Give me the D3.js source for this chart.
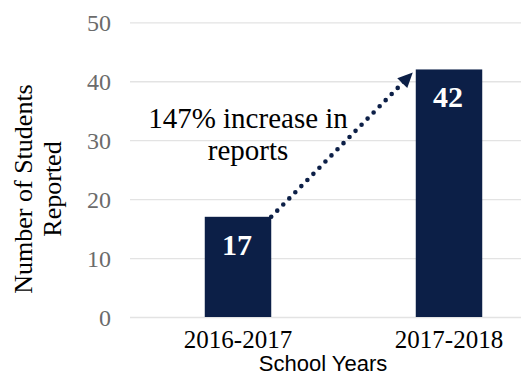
<!DOCTYPE html>
<html><head><meta charset="utf-8">
<script src="https://cdn.jsdelivr.net/npm/d3@7"></script>
<style>body{margin:0;background:#fff}svg{display:block}</style>
</head><body>
<script>
const categories = ["2016-2017", "2017-2018"];
const values = [17, 42];
const yTicks = [0, 10, 20, 30, 40, 50];
const annotationLines = ["147% increase in", "reports"];
const yTitleLines = ["Number of Students", "Reported"];
const xTitle = "School Years";

const W = 521, H = 377;
const svg = d3.select("body").append("svg").attr("width", W).attr("height", H);
const serif = "'Liberation Serif','Times New Roman',serif";
const navy = "#0c1f47";

const y = d3.scaleLinear().domain([0, 50]).range([317, 22.3]);
const x = d3.scaleBand().domain(categories).range([132.5, 554.5]).paddingInner(0.685).paddingOuter(0.3425);

// gridlines
svg.append("g").selectAll("line").data(yTicks).join("line")
  .attr("x1", 130).attr("x2", W)
  .attr("y1", d => y(d) + 0.5).attr("y2", d => y(d) + 0.5)
  .attr("stroke", "#e3e3e3").attr("stroke-width", 1.3);

// y axis labels
const yAxis = d3.axisLeft(y).tickValues(yTicks).tickSize(0).tickPadding(0);
const gy = svg.append("g").attr("transform", "translate(111,0)").call(yAxis);
gy.select(".domain").remove();
gy.selectAll("text").attr("font-family", serif).attr("font-size", 24).attr("fill", "#6b6b6b").attr("dy", "0.34em");

// bars
svg.append("g").selectAll("rect").data(values).join("rect")
  .attr("x", (d, i) => x(categories[i]))
  .attr("y", d => y(d))
  .attr("width", x.bandwidth())
  .attr("height", d => y(0) - y(d))
  .attr("fill", navy);

// bar labels
svg.append("g").selectAll("text").data(values).join("text")
  .attr("x", (d, i) => x(categories[i]) + x.bandwidth() / 2 - 1)
  .attr("y", d => y(d) + 38)
  .attr("text-anchor", "middle")
  .attr("font-family", serif).attr("font-weight", "bold").attr("font-size", 30)
  .attr("fill", "#fff").text(d => d);

// x axis labels
const xAxis = d3.axisBottom(x).tickSize(0).tickPadding(0);
const gx = svg.append("g").attr("transform", "translate(0,348)").call(xAxis);
gx.select(".domain").remove();
gx.selectAll("text").attr("font-family", serif).attr("font-size", 25).attr("fill", "#000").attr("dy", "0");

// x title
svg.append("text").attr("x", 323).attr("y", 371).attr("text-anchor", "middle")
  .attr("font-family", "'Liberation Sans',Arial,sans-serif").attr("font-size", 22).attr("fill", "#000").text(xTitle);

// y title
const yt = svg.append("text").attr("transform", "translate(0,189) rotate(-90)")
  .attr("text-anchor", "middle").attr("font-family", serif).attr("font-size", 26).attr("fill", "#000");
yTitleLines.forEach((t, i) => yt.append("tspan").attr("x", 0).attr("y", 32 + i * 29).text(t));

// arrow (dotted line + head)
const x0 = x(categories[0]) + x.bandwidth(), y0 = y(values[0]);
const x1 = x(categories[1]) - 3, y1 = y(values[1]) + 3;
svg.append("line").attr("x1", x0).attr("y1", y0).attr("x2", x1 - 6).attr("y2", y1 + 6.2)
  .attr("stroke", navy).attr("stroke-width", 4.6).attr("stroke-linecap", "round")
  .attr("stroke-dasharray", "0,8.6");
svg.append("path")
  .attr("d", () => {
    const ang = Math.atan2(y1 - y0, x1 - x0);
    const L = 15, Wd = 7;
    const bx = x1 - L * Math.cos(ang), by = y1 - L * Math.sin(ang);
    const px = -Math.sin(ang) * Wd, py = Math.cos(ang) * Wd;
    return `M${x1},${y1} L${bx + px},${by + py} L${bx - px},${by - py} Z`;
  })
  .attr("fill", navy);

// annotation
const an = svg.append("text").attr("text-anchor", "middle").attr("font-family", serif)
  .attr("font-size", 29).attr("fill", "#000");
annotationLines.forEach((t, i) => an.append("tspan").attr("x", 248).attr("y", 128 + i * 32).text(t));
</script>
</body></html>
